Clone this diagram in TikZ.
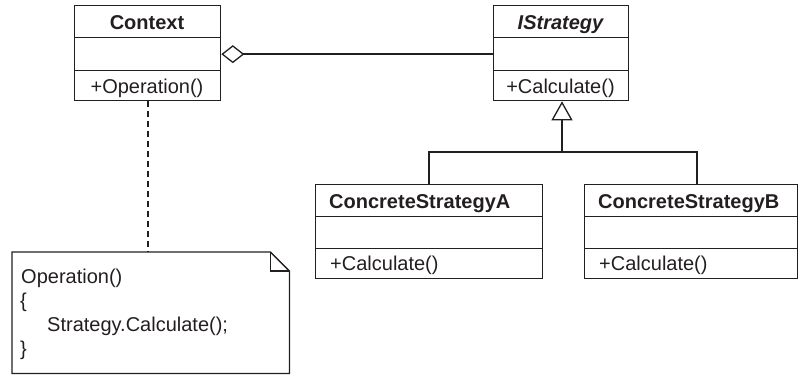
\documentclass[tikz,border=0pt]{standalone}
\usepackage{fontspec}
\setmainfont{Liberation Sans}
\usetikzlibrary{arrows.meta}
\definecolor{ink}{HTML}{231F20}
\begin{document}
\begin{tikzpicture}[x=1pt,y=-1pt,
  comp/.style={draw=ink, line width=1.3pt, inner sep=0pt, anchor=north west, minimum height=#1},
  lbl/.style={text=ink, inner sep=0pt, font=\fontsize{20}{24}\selectfont},
  conn/.style={draw=ink, line width=1.8pt},
  notelink/.style={draw=ink, line width=1.8pt, dash pattern=on 6pt off 4pt}]
\useasboundingbox (0,0) rectangle (800,376);
% Context
\node[comp=32pt, minimum width=146pt] (ctx-name) at (74,5) {};
\node[comp=33pt, minimum width=146pt] (ctx-attr) at (74,37) {};
\node[comp=30pt, minimum width=146pt] (ctx-op) at (74,70) {};
\node[lbl, anchor=base] (ctx-name-t) at (147,29) {\bfseries Context};
\node[lbl, anchor=base] (ctx-op-t) at (147,93) {+Operation()};
% IStrategy
\node[comp=32pt, minimum width=135pt] (is-name) at (493,5) {};
\node[comp=33pt, minimum width=135pt] (is-attr) at (493,37) {};
\node[comp=30pt, minimum width=135pt] (is-op) at (493,70) {};
\node[lbl, anchor=base] (is-name-t) at (560.5,29) {\bfseries\itshape IStrategy};
\node[lbl, anchor=base] (is-op-t) at (560.5,93) {+Calculate()};
% ConcreteStrategyA
\node[comp=32pt, minimum width=227pt] (csa-name) at (315,184) {};
\node[comp=32pt, minimum width=227pt] (csa-attr) at (315,216) {};
\node[comp=30pt, minimum width=227pt] (csa-op) at (315,248) {};
\node[lbl, anchor=base west] (csa-name-t) at (329,208) {\bfseries ConcreteStrategyA};
\node[lbl, anchor=base west] (csa-op-t) at (330,270) {+Calculate()};
% ConcreteStrategyB
\node[comp=32pt, minimum width=213pt] (csb-name) at (584,184) {};
\node[comp=32pt, minimum width=213pt] (csb-attr) at (584,216) {};
\node[comp=30pt, minimum width=213pt] (csb-op) at (584,248) {};
\node[lbl, anchor=base west] (csb-name-t) at (598,208) {\bfseries ConcreteStrategyB};
\node[lbl, anchor=base west] (csb-op-t) at (599,270) {+Calculate()};
% Note
\node[inner sep=0pt, anchor=north west, minimum width=277pt, minimum height=121pt] (note) at (12,252) {};
\draw[ink, line width=1.3pt] (note.north west) -- ([xshift=-19pt]note.north east) -- ([yshift=-19pt]note.north east) -- (note.south east) -- (note.south west) -- cycle;
\draw[ink, line width=1.3pt] ([xshift=-19pt]note.north east) -- ([xshift=-19pt,yshift=-19pt]note.north east) -- ([yshift=-19pt]note.north east);
\node[lbl, anchor=base west] (n1) at (21,283) {Operation()};
\node[lbl, anchor=base west] (n2) at (20,307) {\{};
\node[lbl, anchor=base west] (n3) at (47,331) {Strategy.Calculate();};
\node[lbl, anchor=base west] (n4) at (20,355) {\}};
% connectors
\draw[conn, {Diamond[open, length=23pt, width=18pt, line width=1.3pt]}-] (ctx-attr.east) -- (is-attr.west);
\coordinate (join) at (562,152);
\coordinate (csb-top) at (697,184);
\draw[conn, -{Triangle[open, length=19pt, width=21pt, line width=1.3pt]}] (join) -- (is-op.south -| join);
\draw[conn] (csa-name.north) |- (join);
\draw[conn] (csb-top) |- (join);
\draw[notelink] (ctx-op.south) -- (ctx-op.south |- note.north);
\end{tikzpicture}
\end{document}
